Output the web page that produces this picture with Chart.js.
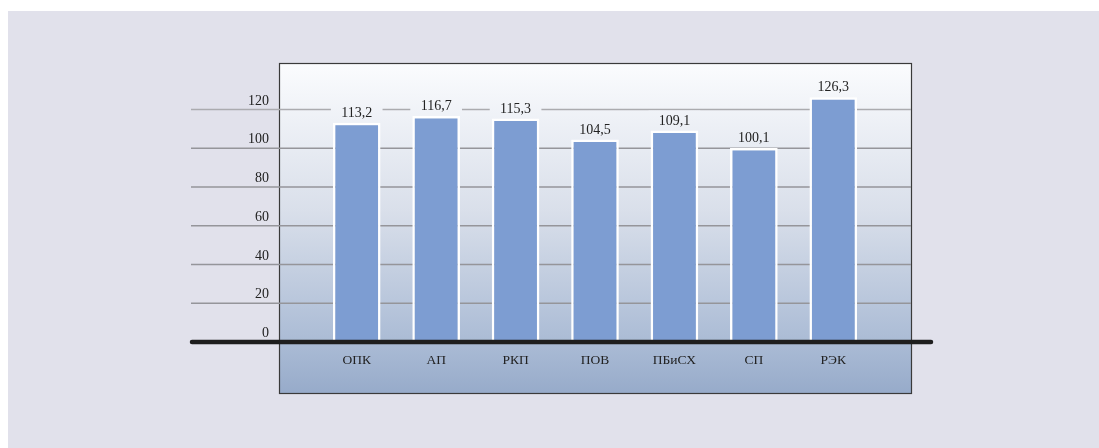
<!DOCTYPE html>
<html>
<head>
<meta charset="utf-8">
<script src="https://cdn.jsdelivr.net/npm/chart.js@4.4.1/dist/chart.umd.min.js"></script>
<style>
  html, body { margin: 0; padding: 0; background: #ffffff; }
  #wrap { position: relative; width: 1099px; height: 448px; overflow: hidden; }
  #bg { position: absolute; left: 8px; top: 11px; right: 0; bottom: 0; background: #e1e1eb; }
  #chart { position: absolute; left: 0; top: 0; }
</style>
</head>
<body>
<div id="wrap">
  <div id="bg"></div>
  <canvas id="chart" width="1099" height="448"></canvas>
</div>
<script>
// данные
const categories = ['ОПК', 'АП', 'РКП', 'ПОВ', 'ПБиСХ', 'СП', 'РЭК'];
const values = [113.2, 116.7, 115.3, 104.5, 109.1, 100.1, 126.3];
const yTicks = [0, 20, 40, 60, 80, 100, 120];

const SERIF = '"Liberation Serif", "DejaVu Serif", serif';
const fmt = v => v.toFixed(1).replace('.', ',');

// панель, сетка, подписи
const panelPlugin = {
    id: 'panel',
    beforeDatasetsDraw(chart) {
        const ctx = chart.ctx;
        const y = chart.scales.y;
        const px = 279, py = 63, pw = 632, ph = 330;

        const grad = ctx.createLinearGradient(0, py, 0, py + ph);
        grad.addColorStop(0, '#fbfcfe');
        grad.addColorStop(0.45, '#d9dfea');
        grad.addColorStop(0.85, '#aabbd5');
        grad.addColorStop(1, '#97abca');
        chart.$panelGrad = grad;

        ctx.save();
        ctx.fillStyle = grad;
        ctx.fillRect(px, py, pw, ph);
        ctx.strokeStyle = '#3a3a3a';
        ctx.lineWidth = 1.2;
        ctx.strokeRect(px + 0.5, py + 0.5, pw, ph);

        // линии сетки и подписи оси Y
        ctx.font = '14px ' + SERIF;
        ctx.fillStyle = '#222222';
        ctx.textAlign = 'right';
        ctx.textBaseline = 'alphabetic';
        yTicks.forEach(t => {
            const yy = y.getPixelForValue(t);
            if (t > 0) {
                ctx.strokeStyle = t === 120 ? '#ababaf' : '#95959a';
                ctx.lineWidth = 1.4;
                ctx.beginPath();
                ctx.moveTo(191, yy);
                ctx.lineTo(px + pw, yy);
                ctx.stroke();
            }
            ctx.fillText(String(t), 269, yy - 5);
        });
        ctx.restore();
    },
    afterDatasetsDraw(chart) {
        const ctx = chart.ctx;
        const x = chart.scales.x;
        const y = chart.scales.y;
        const meta = chart.getDatasetMeta(0);

        ctx.save();
        // подписи значений
        ctx.font = '14px ' + SERIF;
        ctx.textAlign = 'center';
        ctx.textBaseline = 'alphabetic';
        meta.data.forEach((bar, i) => {
            const half = bar.width / 2 + 2;
            const top = bar.y - 2;
            ctx.fillStyle = chart.$panelGrad;
            ctx.fillRect(bar.x - half, top - 18, half * 2, 18);
            ctx.fillStyle = '#222222';
            ctx.fillText(fmt(values[i]), bar.x, top - 4);
        });

        // ось X
        const y0 = y.getPixelForValue(0);
        ctx.strokeStyle = '#1e1e1e';
        ctx.lineWidth = 4.5;
        ctx.lineCap = 'round';
        ctx.beginPath();
        ctx.moveTo(192, y0);
        ctx.lineTo(931, y0);
        ctx.stroke();

        // категории
        ctx.font = '13.5px ' + SERIF;
        ctx.fillStyle = '#222222';
        ctx.textBaseline = 'middle';
        categories.forEach((c, i) => {
            ctx.fillText(c, x.getPixelForValue(i), y0 + 18);
        });
        ctx.restore();
    }
};

new Chart(document.getElementById('chart'), {
    type: 'bar',
    data: {
        labels: categories,
        datasets: [{
            data: values,
            backgroundColor: '#7d9dd2',
            borderColor: '#ffffff',
            borderWidth: 2.5,
            borderSkipped: 'bottom',
            categoryPercentage: 1,
            barPercentage: 0.6
        }]
    },
    options: {
        responsive: false,
        animation: false,
        events: [],
        layout: { padding: { left: 317, right: 226, top: 63, bottom: 106 } },
        plugins: { legend: { display: false }, tooltip: { enabled: false } },
        scales: {
            x: { display: false },
            y: { display: false, min: 0, max: 144 }
        }
    },
    plugins: [panelPlugin]
});
</script>
</body>
</html>
